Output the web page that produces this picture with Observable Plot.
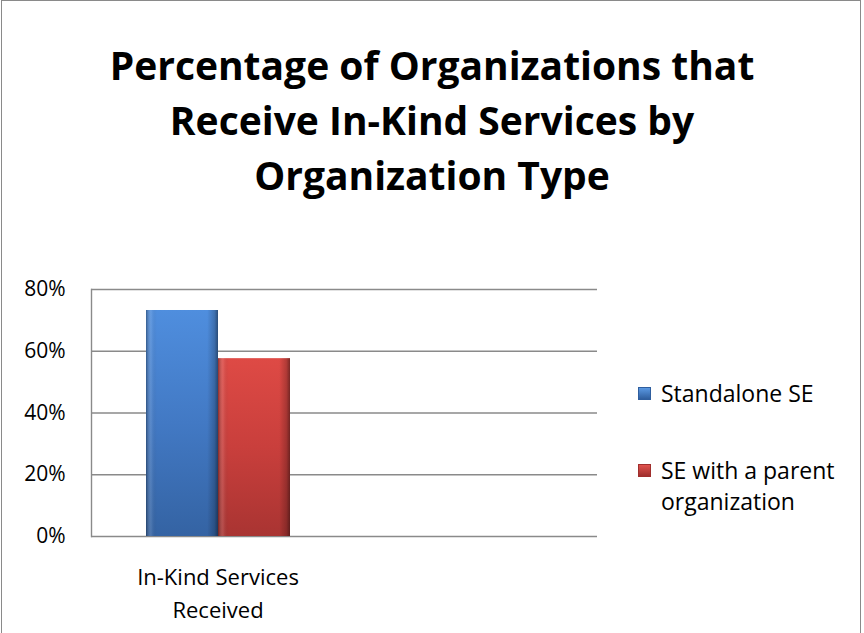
<!DOCTYPE html>
<html>
<head>
<meta charset="utf-8">
<script src="https://cdn.jsdelivr.net/npm/d3@7"></script>
<script src="https://cdn.jsdelivr.net/npm/@observablehq/plot@0.6"></script>
<style>
  html, body { margin: 0; padding: 0; background: #fff; }
  #wrap { position: relative; width: 864px; height: 633px; overflow: hidden; background: #fff; font-family: "Open Sans", sans-serif; }
  #border { position: absolute; left: 1px; top: 0px; width: 860px; height: 700px; border: 1.5px solid #8a8a8a; box-sizing: border-box; }
  #title { position: absolute; left: 0; top: 37px; width: 864px; text-align: center; font-weight: 700; font-size: 39px; line-height: 55px; color: #000; }
  #chart { position: absolute; left: 0; top: 0; }
  #legend { position: absolute; left: 638px; top: 378px; font-size: 23px; color: #000; }
  .item { position: relative; padding-left: 23px; line-height: 31px; }
  .sw { position: absolute; left: 0; top: 9px; width: 13px; height: 13px; }
</style>
</head>
<body>
<div id="wrap">
  <div id="border"></div>
  <div id="title">Percentage of Organizations that<br>Receive In-Kind Services by<br>Organization Type</div>
  <div id="chart"></div>
  <div id="legend"></div>
</div>
<script>
// ---- data ----
const categories = ["In-Kind Services Received"];
const categoryLabels = ["In-Kind Services\nReceived"];
const series = ["Standalone SE", "SE with a parent organization"];
const values = [0.732, 0.576];
const yTicks = [0, 0.2, 0.4, 0.6, 0.8];
const yTickLabels = ["0%", "20%", "40%", "60%", "80%"];
const legendLabels = ["Standalone SE", "SE with a parent<br>organization"];

const rows = series.map((s, i) => ({category: categories[0], series: s, value: values[i]}));
const blank = "\u00a0";
const fxDomain = [...categories, blank];
const gridRows = fxDomain.flatMap(f => yTicks.map(y => ({fx: f, y})));

const plot = Plot.plot({
  width: 864,
  height: 633,
  marginTop: 289,
  marginBottom: 97,
  marginLeft: 91,
  marginRight: 267,
  style: {fontFamily: "'Open Sans', sans-serif", fontSize: "21px", color: "#000", background: "transparent", overflow: "visible"},
  fx: {domain: fxDomain, padding: 0, label: null, axis: null},
  x: {domain: series, paddingInner: 0, paddingOuter: 0.737, axis: null},
  y: {domain: [0, 0.8], label: null},
  color: {domain: series, range: ["url(#gBlue)", "url(#gRed)"]},
  marks: [
    Plot.ruleY(gridRows, {fx: "fx", y: "y", stroke: "#8a8a8a", strokeWidth: 1.4}),
    Plot.barY(rows, {fx: "category", x: "series", y: "value", fill: "series"}),
    Plot.barY(rows, {fx: "category", x: "series", y: "value", fill: "url(#gEdge)"}),
    Plot.axisY({ticks: yTicks, tickSize: 0, tickPadding: 26, tickFormat: d => yTickLabels[yTicks.indexOf(d)], fontSize: 21, label: null}),
    Plot.axisFx({anchor: "bottom", tickSize: 0, tickPadding: 25, fontSize: 22, lineHeight: 1.5, label: null,
      tickFormat: d => { const i = categories.indexOf(d); return i >= 0 ? categoryLabels[i] : ""; }}),
    Plot.frame({anchor: "left", facetAnchor: "left", stroke: "#8a8a8a", strokeWidth: 1.4})
  ]
});

// gradient defs for the bevelled bar look
const ns = "http://www.w3.org/2000/svg";
const defs = document.createElementNS(ns, "defs");
function grad(id, stops, vertical) {
  const g = document.createElementNS(ns, "linearGradient");
  g.setAttribute("id", id);
  g.setAttribute("x1", "0"); g.setAttribute("y1", "0");
  g.setAttribute("x2", vertical ? "0" : "1"); g.setAttribute("y2", vertical ? "1" : "0");
  for (const [o, c, a] of stops) {
    const s = document.createElementNS(ns, "stop");
    s.setAttribute("offset", o);
    s.setAttribute("stop-color", c);
    s.setAttribute("stop-opacity", a == null ? 1 : a);
    g.appendChild(s);
  }
  defs.appendChild(g);
}
grad("gBlue", [["0", "#4f8ede"], ["0.5", "#4279c4"], ["1", "#3463a3"]], true);
grad("gRed", [["0", "#de4a45"], ["0.5", "#c93f3c"], ["1", "#a93432"]], true);
grad("gEdge", [["0", "#000", 0.35], ["0.07", "#fff", 0.12], ["0.15", "#000", 0], ["0.85", "#000", 0], ["0.95", "#000", 0.2], ["1", "#000", 0.45]], false);
plot.insertBefore(defs, plot.firstChild);
document.getElementById("chart").appendChild(plot);

// legend
const swatchGrads = [["#5a98e2", "#2f5e9e"], ["#e0524d", "#a02f2d"]];
const legend = document.getElementById("legend");
series.forEach((s, i) => {
  const div = document.createElement("div");
  div.className = "item";
  div.style.marginBottom = i === 0 ? "46px" : "0";
  div.innerHTML = `<span class="sw" style="background:linear-gradient(${swatchGrads[i][0]}, ${swatchGrads[i][1]});border:1px solid ${swatchGrads[i][1]};box-sizing:border-box"></span>${legendLabels[i]}`;
  legend.appendChild(div);
});
</script>
</body>
</html>
